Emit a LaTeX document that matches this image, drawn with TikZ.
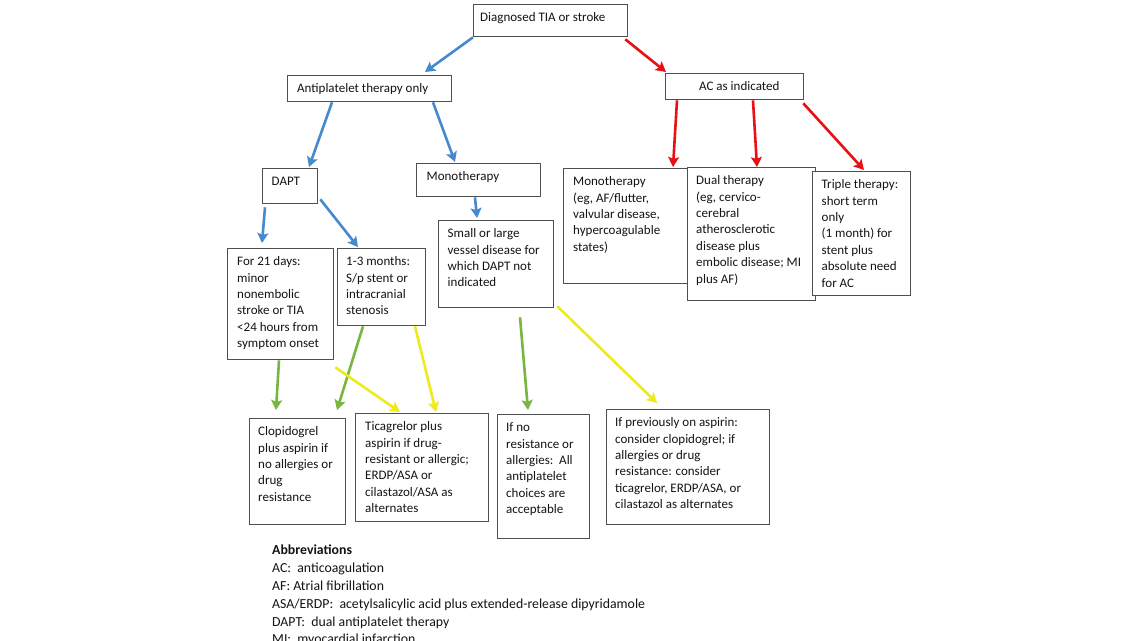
\documentclass[tikz,border=0pt]{standalone}
\usepackage{fontspec}
\setmainfont{Carlito}
\usetikzlibrary{arrows.meta}
\definecolor{cblue}{RGB}{70,138,205}
\definecolor{cred}{RGB}{232,16,20}
\definecolor{cgreen}{RGB}{120,182,64}
\definecolor{cyellow}{RGB}{238,234,30}
\definecolor{cborder}{RGB}{80,80,80}
\tikzset{
  boxst/.style={draw=cborder, line width=1.3pt, fill=white, inner sep=0pt, rectangle},
  txt/.style={inner sep=0pt, align=left, font=\fontsize{13}{16.4}\selectfont, text=black!92},
  conn/.style={line width=2.6pt, -{Stealth[length=10pt,width=11pt,inset=2pt]}},
  bluearr/.style={conn, draw=cblue, color=cblue},
  redarr/.style={conn, draw=cred, color=cred},
  greenarr/.style={conn, draw=cgreen, color=cgreen},
  yellowarr/.style={conn, draw=cyellow, color=cyellow},
}
% name, x1, y1, x2, y2, x-offset, text
\newcommand\flowbox[7]{%
  \node[boxst, anchor=north west, minimum width=#4pt-#2pt, minimum height=#5pt-#3pt] (#1) at (#2,#3) {};
  \node[txt, anchor=north west] (#1-t) at ([shift={(#6pt,-8.5pt)}]#1.north west) {#7};
}
\begin{document}
\begin{tikzpicture}[x=1pt,y=-1pt]
\useasboundingbox (0,0) rectangle (1138,640);
\fill[white] (0,0) rectangle (1138,640);

\flowbox{diag}{473}{4}{627}{36}{7}{Diagnosed TIA or stroke}
\flowbox{anti}{287}{75}{451}{101}{10}{Antiplatelet therapy only}
\flowbox{ac}{665}{73}{803}{99}{34}{AC as indicated}
\flowbox{dapt}{262}{168}{317}{203}{9.5}{DAPT}
\flowbox{mono}{416}{163}{540}{196}{10.5}{Monotherapy}
\flowbox{small}{438}{220}{553}{307}{9.5}{Small or large\\vessel disease for\\which DAPT not\\indicated}
\flowbox{for21}{227}{248}{333}{359}{10}{For 21 days:\\minor\\nonembolic\\stroke or TIA\\<24 hours from\\symptom onset}
\flowbox{m13}{337}{248}{425}{325}{9}{1-3 months:\\S/p stent or\\intracranial\\stenosis}
\flowbox{monoac}{563}{168}{688}{283}{10}{Monotherapy\\(eg, AF/flutter,\\valvular disease,\\hypercoagulable\\states)}
\flowbox{dual}{687}{167}{815}{300}{9}{Dual therapy\\(eg, cervico-\\cerebral\\atherosclerotic\\disease plus\\embolic disease; MI\\plus AF)}
\flowbox{triple}{812}{171}{910}{295}{9.5}{Triple therapy:\\short term\\only\\(1 month) for\\stent plus\\absolute need\\for AC}
\flowbox{clop}{249}{418}{345}{524}{9}{Clopidogrel\\plus aspirin if\\no allergies or\\drug\\resistance}
\flowbox{tica}{355}{413}{488}{521}{10}{Ticagrelor plus\\aspirin if drug-\\resistant or allergic;\\ERDP/ASA or\\cilastazol/ASA as\\alternates}
\flowbox{ifno}{497}{414}{589}{538}{9}{If no\\resistance or\\allergies:\ \ All\\antiplatelet\\choices are\\acceptable}
\flowbox{prev}{606}{409}{769}{524}{9}{If previously on aspirin:\\consider clopidogrel; if\\allergies or drug\\resistance: consider\\ticagrelor, ERDP/ASA, or\\cilastazol as alternates}

\node[txt, anchor=north west, font=\fontsize{13.8}{17.8}\selectfont] (abbr) at (272,545)
  {\textbf{Abbreviations}\\AC:\ \ anticoagulation\\AF: Atrial fibrillation\\ASA/ERDP:\ \ acetylsalicylic acid plus extended-release dipyridamole\\DAPT:\ \ dual antiplatelet therapy\\MI:\ \ myocardial infarction};

% arrows
\draw[bluearr] (diag.south west) -- ([shift={(138pt,3pt)}]anti.north west);
\draw[redarr] ([shift={(-3pt,-2pt)}]diag.south east) -- ([shift={(1pt,1pt)}]ac.north west);
\draw[bluearr] ([xshift=45pt]anti.south west) -- ([shift={(47pt,1pt)}]dapt.north west);
\draw[bluearr] ([xshift=146pt]anti.south west) -- ([shift={(39pt,1pt)}]mono.north west);
\draw[redarr] ([xshift=12pt]ac.south west) -- ([shift={(110pt,1pt)}]monoac.north west);
\draw[redarr] ([xshift=88pt]ac.south west) -- ([shift={(70pt,0pt)}]dual.north west);
\draw[redarr] ([shift={(-1pt,-3pt)}]ac.south east) -- ([shift={(52pt,1pt)}]triple.north west);
\draw[bluearr] ([shift={(3pt,-3pt)}]dapt.south west) -- ([shift={(35pt,5pt)}]for21.north west);
\draw[bluearr] ([shift={(2pt,5pt)}]dapt.south east) -- ([shift={(21pt,1pt)}]m13.north west);
\draw[bluearr] ([xshift=59pt]mono.south west) -- ([shift={(39pt,2pt)}]small.north west);
\draw[greenarr] ([xshift=52pt]for21.south west) -- ([shift={(27pt,8pt)}]clop.north west);
\draw[greenarr] ([xshift=26pt]m13.south west) -- ([shift={(88pt,8pt)}]clop.north west);
\draw[yellowarr] ([shift={(1pt,-7pt)}]for21.south east) -- ([shift={(45pt,1pt)}]tica.north west);
\draw[yellowarr] ([xshift=78pt]m13.south west) -- ([shift={(81pt,1pt)}]tica.north west);
\draw[greenarr] ([shift={(82pt,-9pt)}]small.south west) -- ([shift={(31pt,4pt)}]ifno.north west);
\draw[yellowarr] ([shift={(3pt,2pt)}]small.south east) -- ([shift={(51pt,6pt)}]prev.north west);
\end{tikzpicture}
\end{document}
